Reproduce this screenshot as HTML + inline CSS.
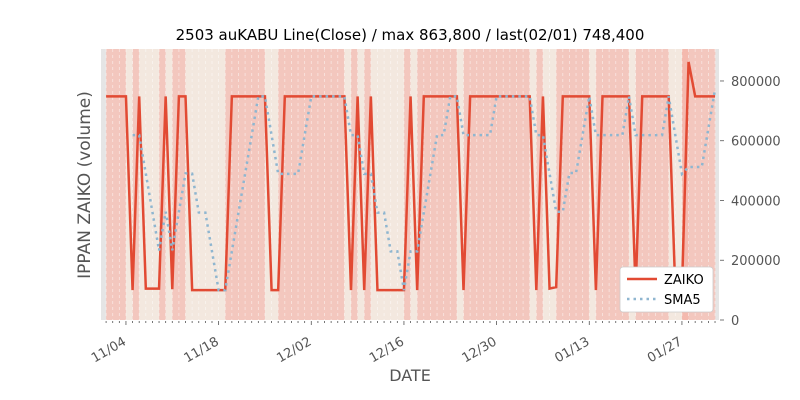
<!DOCTYPE html>
<html><head><meta charset="utf-8">
<style>
html,body{margin:0;padding:0;background:#fff;}
svg{display:block;font-family:"DejaVu Sans","Liberation Sans",sans-serif;}
</style></head>
<body>
<svg id="chart" width="800" height="400" viewBox="0 0 800 400" xmlns="http://www.w3.org/2000/svg">
<text x="410" y="40" text-anchor="middle" font-size="15" fill="#000">2503 auKABU Line(Close) / max 863,800 / last(02/01) 748,400</text>
<rect x="101" y="49" width="618" height="271" fill="#e5e5e5"/>
<g id="bands"></g>
<g id="grid"></g>
<g id="series"></g>
<g id="xaxis"></g>
<g id="yaxis"></g>
<text x="410" y="381" text-anchor="middle" font-size="16" fill="#555">DATE</text>
<text transform="translate(90,185) rotate(-90)" text-anchor="middle" font-size="17" fill="#555">IPPAN ZAIKO (volume)</text>
<g>
<rect x="620" y="267" width="93" height="45" rx="3" fill="#fff" stroke="#ccc" stroke-width="0.8"/>
<line x1="627" y1="279" x2="657" y2="279" stroke="#e24a33" stroke-width="2.5"/>
<text x="664" y="284" font-size="13" fill="#000">ZAIKO</text>
<line x1="627" y1="299" x2="657" y2="299" stroke="#8fb6d0" stroke-width="2.5" stroke-dasharray="2.5,4"/>
<text x="664" y="304" font-size="13" fill="#000">SMA5</text>
</g>
</svg>
<script>
const H = 748400, L = 100000;
const zaiko = [H,H,H,H,100000,H,105000,105000,105000,H,
 103000,H,H,100000,100000,100000,100000,100000,100000,H,
 H,H,H,H,H,100000,100000,H,H,H,
 H,H,H,H,H,H,H,100000,H,100000,
 H,100000,100000,100000,100000,100000,H,100000,H,H,
 H,H,H,H,100000,H,H,H,H,H,
 H,H,H,H,H,100000,H,105000,110000,H,
 H,H,H,H,100000,H,H,H,H,H,
 100000,H,H,H,H,H,100000,100000,863800,H,
 H,H,H];
const tickDays = [3,17,31,45,59,73,87];
const tickLabels = ["11/04","11/18","12/02","12/16","12/30","01/13","01/27"];
const yTicks = [0,200000,400000,600000,800000];
const smaWindow = 5;

const NS="http://www.w3.org/2000/svg";
const X0=101,X1=719,Y0=320,Y1=49;
const xMin=-0.77,xMax=92.6,yMax=906990;
const xs=d=>X0+(d-xMin)/(xMax-xMin)*(X1-X0);
const ys=v=>Y0-v/yMax*(Y0-Y1);
function mk(tag,attrs,parent){const e=document.createElementNS(NS,tag);for(const k in attrs)e.setAttribute(k,attrs[k]);parent.appendChild(e);return e;}

const sma=zaiko.map((v,i)=>{if(i<smaWindow-1)return null;let s=0;for(let j=i-smaWindow+1;j<=i;j++)s+=zaiko[j];return s/smaWindow;});

const bands=document.getElementById('bands');
for(let i=0;i<zaiko.length-1;i++){
  const hi=zaiko[i+1]>=500000;
  const r=mk('rect',{x:xs(i),y:Y1,width:xs(i+1)-xs(i)+0.3,height:Y0-Y1,fill:hi?(zaiko[i+1]>800000?'#f4b9ae':'#f3c7be'):'#f3e8df'},bands);
  
  
}
const grid=document.getElementById('grid');
for(let i=0;i<zaiko.length;i++){
  const l=mk('line',{x1:xs(i),x2:xs(i),y1:Y1,y2:Y0,stroke:'#ffffff','stroke-opacity':0.55,'stroke-width':0.8,'stroke-dasharray':'3,3'},grid);
  
  
}
const series=document.getElementById('series');
const zp=mk('polyline',{points:zaiko.map((v,i)=>xs(i)+','+ys(v)).join(' '),fill:'none',stroke:'#e24a33','stroke-width':2.5,'stroke-linejoin':'miter'},series);


const sp=mk('polyline',{points:sma.map((v,i)=>v===null?null:xs(i)+','+ys(v)).filter(p=>p).join(' '),fill:'none',stroke:'#8fb6d0','stroke-width':2.5,'stroke-dasharray':'2.5,4'},series);



const xa=document.getElementById('xaxis');
for(let i=0;i<zaiko.length;i++){
  const major=tickDays.indexOf(i)>=0;
  const t=mk('line',{x1:xs(i),x2:xs(i),y1:Y0+1,y2:Y0+(major?5:3),stroke:'#555','stroke-width':0.8},xa);
  
  
}
tickDays.forEach((d,k)=>{
  const px=xs(d)+1, py=Y0+24;
  const t=mk('text',{x:px,y:py,'text-anchor':'end','font-size':13,fill:'#555',transform:`rotate(-30 ${px} ${py})`},xa);
  t.textContent=tickLabels[k];
  
  
});
const ya=document.getElementById('yaxis');
yTicks.forEach(v=>{
  const l=mk('line',{x1:X1+1,x2:X1+5,y1:ys(v),y2:ys(v),stroke:'#555','stroke-width':0.8},ya);
  
  
  const t=mk('text',{x:X1+12,y:ys(v)+5,'font-size':13,fill:'#555'},ya);
  t.textContent=String(v);
  
  
});
</script>
</body></html>
